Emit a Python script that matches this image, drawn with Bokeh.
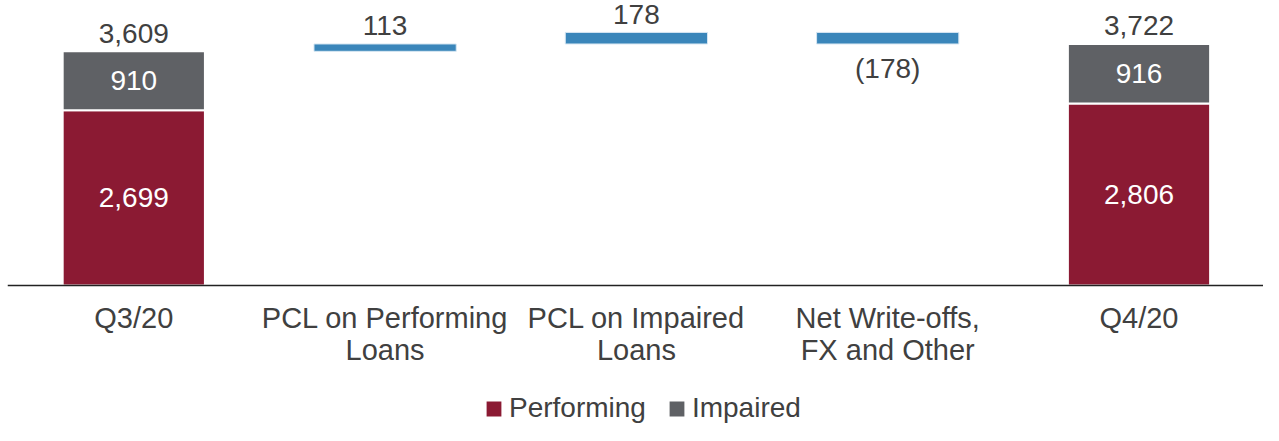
from bokeh.plotting import figure
from bokeh.models import (ColumnDataSource, Range1d, FixedTicker, LabelSet,
                          Legend, LegendItem)
from bokeh.core.properties import value
from bokeh.embed import file_html
from bokeh.resources import INLINE

# ---- data ----
categories = ["Q3/20", "PCL on Performing\nLoans", "PCL on Impaired\nLoans",
              "Net Write-offs,\nFX and Other", "Q4/20"]
performing = [2699, 2806]          # Q3/20, Q4/20
impaired = [910, 916]              # Q3/20, Q4/20
changes = [113, 178, -178]         # waterfall steps
change_labels = ["113", "178", "(178)"]

FONT = "Liberation Sans"
TXT = "#404040"
RED = "#8B1A33"
GRAY = "#5F6165"
BLUE = "#3A86BA"
FS = "28px"

end_idx = [0, len(categories) - 1]

# stacked end bars
perf_src = ColumnDataSource(dict(x=end_idx, bottom=[0, 0], top=performing))
imp_src = ColumnDataSource(dict(x=end_idx,
                                bottom=performing,
                                top=[p + i for p, i in zip(performing, impaired)]))

# floating waterfall bars
start_total = performing[0] + impaired[0]
bots, tops, level = [], [], start_total
for c in changes:
    new = level + c
    bots.append(min(level, new))
    tops.append(max(level, new))
    level = new
step_x = list(range(1, 1 + len(changes)))
step_src = ColumnDataSource(dict(x=step_x, bottom=bots, top=tops))

p = figure(width=1263, height=425, output_backend="svg", toolbar_location=None,
           x_range=Range1d(-0.5026, 4.4954), y_range=Range1d(-2157, 4392),
           y_axis_location=None, min_border_left=7, min_border_right=0,
           min_border_top=0, min_border_bottom=0)
p.xgrid.visible = False
p.ygrid.visible = False
p.outline_line_color = None
p.background_fill_color = "white"
p.border_fill_color = "white"

W = 0.566
r_perf = p.vbar(x="x", bottom="bottom", top="top", width=W, source=perf_src,
                fill_color=RED, line_color="white", line_width=2)
r_imp = p.vbar(x="x", bottom="bottom", top="top", width=W, source=imp_src,
               fill_color=GRAY, line_color="white", line_width=2)
p.vbar(x="x", bottom="bottom", top="top", width=W, source=step_src,
       fill_color=BLUE, line_color="#d6e6f2", line_width=1)

# axis drawn at the zero line
ax = p.xaxis[0]
ax.fixed_location = 0
ax.ticker = FixedTicker(ticks=list(range(len(categories))))
ax.major_label_overrides = {i: c for i, c in enumerate(categories)}
ax.major_tick_line_color = None
ax.minor_tick_line_color = None
ax.major_tick_out = 0
ax.major_tick_in = 0
ax.axis_line_color = "#222222"
ax.axis_line_width = 1.3
ax.major_label_text_font = FONT
ax.major_label_text_font_size = "29px"
ax.major_label_text_color = TXT
ax.major_label_text_line_height = 1.02
ax.major_label_standoff = 16

# labels
def fmt(v):
    return f"{v:,}"

totals = [p_ + i for p_, i in zip(performing, impaired)]
above_src = ColumnDataSource(dict(
    x=end_idx + step_x[:2],
    y=totals + tops[:2],
    t=[fmt(v) for v in totals] + change_labels[:2]))
below_src = ColumnDataSource(dict(x=step_x[2:], y=bots[2:], t=change_labels[2:]))
inner_src = ColumnDataSource(dict(
    x=end_idx + end_idx,
    y=[v / 2 for v in performing] + [p_ + i / 2 for p_, i in zip(performing, impaired)],
    t=[fmt(v) for v in performing] + [fmt(v) for v in impaired]))

common = dict(text_font=value(FONT), text_font_size=value(FS),
              text_align="center", text_baseline="middle")
p.add_layout(LabelSet(x="x", y="y", text="t", source=above_src, y_offset=18,
                      text_color=TXT, **common))
p.add_layout(LabelSet(x="x", y="y", text="t", source=below_src, y_offset=-25,
                      text_color=TXT, **common))
p.add_layout(LabelSet(x="x", y="y", text="t", source=inner_src,
                      text_color="white", **common))

legend = Legend(items=[LegendItem(label="Performing", renderers=[r_perf]),
                       LegendItem(label="Impaired", renderers=[r_imp])],
                location=(476, 1), orientation="horizontal",
                label_text_font=FONT, label_text_font_size=FS,
                label_text_color=TXT, glyph_width=21, glyph_height=21,
                label_height=28, label_standoff=5, spacing=20, padding=0,
                margin=0, border_line_color=None, background_fill_alpha=0)
p.add_layout(legend, "center")

open("out.html", "w").write(file_html(p, INLINE))
